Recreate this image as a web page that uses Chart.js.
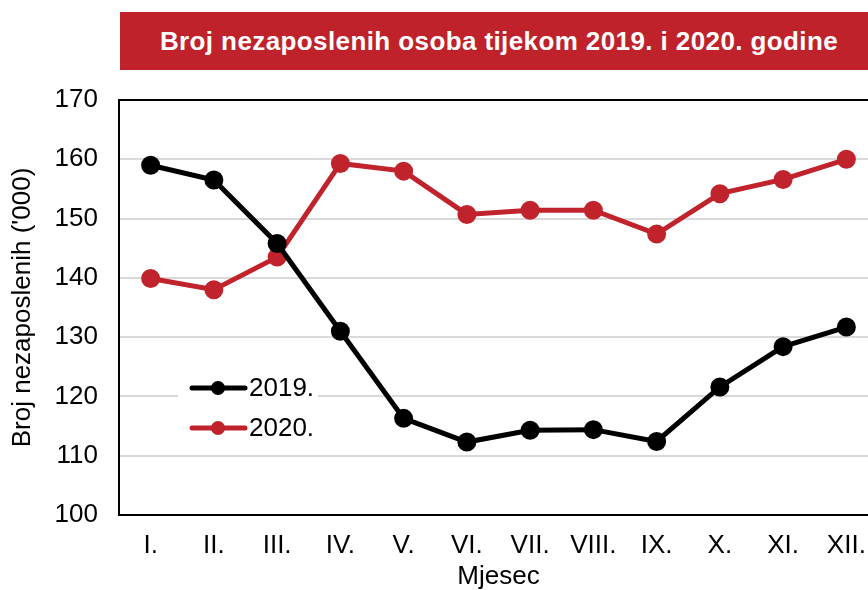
<!DOCTYPE html>
<html>
<head>
<meta charset="utf-8">
<script src="https://cdn.jsdelivr.net/npm/chart.js@4/dist/chart.umd.min.js"></script>
<style>
  body { margin: 0; overflow: hidden; background: #fff; font-family: "Liberation Sans", Arial, sans-serif; }
  #wrap { position: absolute; left: 0; top: 0; width: 890px; height: 590px; }
  #title {
    position: absolute; left: 120px; top: 12px; width: 758px; height: 58px;
    background: #c0222b; color: #fff; font-weight: bold; font-size: 26px;
    letter-spacing: 0.4px; line-height: 58px; text-align: center;
  }
</style>
</head>
<body>
<div id="wrap">
  <canvas id="unemploymentChart" width="890" height="590"></canvas>
  <div id="title">Broj nezaposlenih osoba tijekom 2019. i 2020. godine</div>
</div>
<script>
const months = ['I.', 'II.', 'III.', 'IV.', 'V.', 'VI.', 'VII.', 'VIII.', 'IX.', 'X.', 'XI.', 'XII.'];
const values2019 = [159.0, 156.5, 145.8, 131.0, 116.3, 112.3, 114.3, 114.4, 112.4, 121.6, 128.4, 131.7];
const values2020 = [139.9, 138.0, 143.5, 159.3, 158.0, 150.7, 151.4, 151.4, 147.4, 154.2, 156.6, 160.0];
const yTicks = [100, 110, 120, 130, 140, 150, 160, 170];

const RED = '#c0232c';
const FONT = '"Liberation Sans", Arial, sans-serif';

// legend drawn inside the plot, on a white box
const insideLegend = {
    id: 'insideLegend',
    afterDatasetsDraw(chart) {
        const ctx = chart.ctx;
        ctx.save();
        ctx.fillStyle = '#fff';
        ctx.fillRect(178, 368, 140, 80);
        chart.data.datasets.forEach((ds, i) => {
            const y = 388 + i * 40;
            ctx.strokeStyle = ds.borderColor;
            ctx.lineWidth = 5;
            ctx.lineCap = 'round';
            ctx.beginPath();
            ctx.moveTo(192, y);
            ctx.lineTo(245, y);
            ctx.stroke();
            ctx.fillStyle = ds.borderColor;
            ctx.beginPath();
            ctx.arc(218, y, 7, 0, Math.PI * 2);
            ctx.fill();
            ctx.fillStyle = '#000';
            ctx.font = '26px ' + FONT;
            ctx.textBaseline = 'middle';
            ctx.textAlign = 'left';
            ctx.fillText(ds.label, 249, y + 1);
        });
        ctx.restore();
    }
};

const ctx = document.getElementById('unemploymentChart').getContext('2d');
new Chart(ctx, {
    type: 'line',
    data: {
        labels: months,
        datasets: [{
            label: '2019.',
            data: values2019,
            borderColor: '#000',
            backgroundColor: '#000',
            borderWidth: 5,
            pointRadius: 7,
            pointHoverRadius: 7,
            tension: 0
        }, {
            label: '2020.',
            data: values2020,
            borderColor: RED,
            backgroundColor: RED,
            borderWidth: 5,
            pointRadius: 7,
            pointHoverRadius: 7,
            tension: 0
        }]
    },
    options: {
        responsive: false,
        animation: false,
        clip: false,
        layout: { padding: { top: 100, right: 12, left: 0, bottom: 0 } },
        plugins: {
            legend: { display: false },
            tooltip: { enabled: false }
        },
        scales: {
            x: {
                offset: true,
                grid: { display: false, drawTicks: false },
                border: { color: '#000', width: 2 },
                ticks: { color: '#000', font: { family: FONT, size: 26 }, padding: 15, maxRotation: 0, autoSkip: false },
                title: { display: true, text: 'Mjesec', color: '#000', font: { family: FONT, size: 26, lineHeight: 1.0 }, padding: { top: 0, bottom: 0 } },
                afterFit(scale) { scale.height = 75; }
            },
            y: {
                min: 100,
                max: 170,
                afterBuildTicks(scale) { scale.ticks = yTicks.map(v => ({ value: v })); },
                grid: {
                    drawTicks: false,
                    lineWidth: 2,
                    color: c => (c.tick && (c.tick.value === 170 || c.tick.value === 100)) ? '#000' : '#d9d9d9'
                },
                border: { color: '#000', width: 2 },
                ticks: { color: '#000', font: { family: FONT, size: 26 }, padding: 21 },
                title: { display: true, text: "Broj nezaposlenih ('000)", color: '#000', font: { family: FONT, size: 26, lineHeight: 1.0 }, padding: { top: 10, bottom: 0 } },
                afterFit(scale) { scale.width = 119; }
            }
        }
    },
    plugins: [insideLegend]
});
</script>
</body>
</html>
